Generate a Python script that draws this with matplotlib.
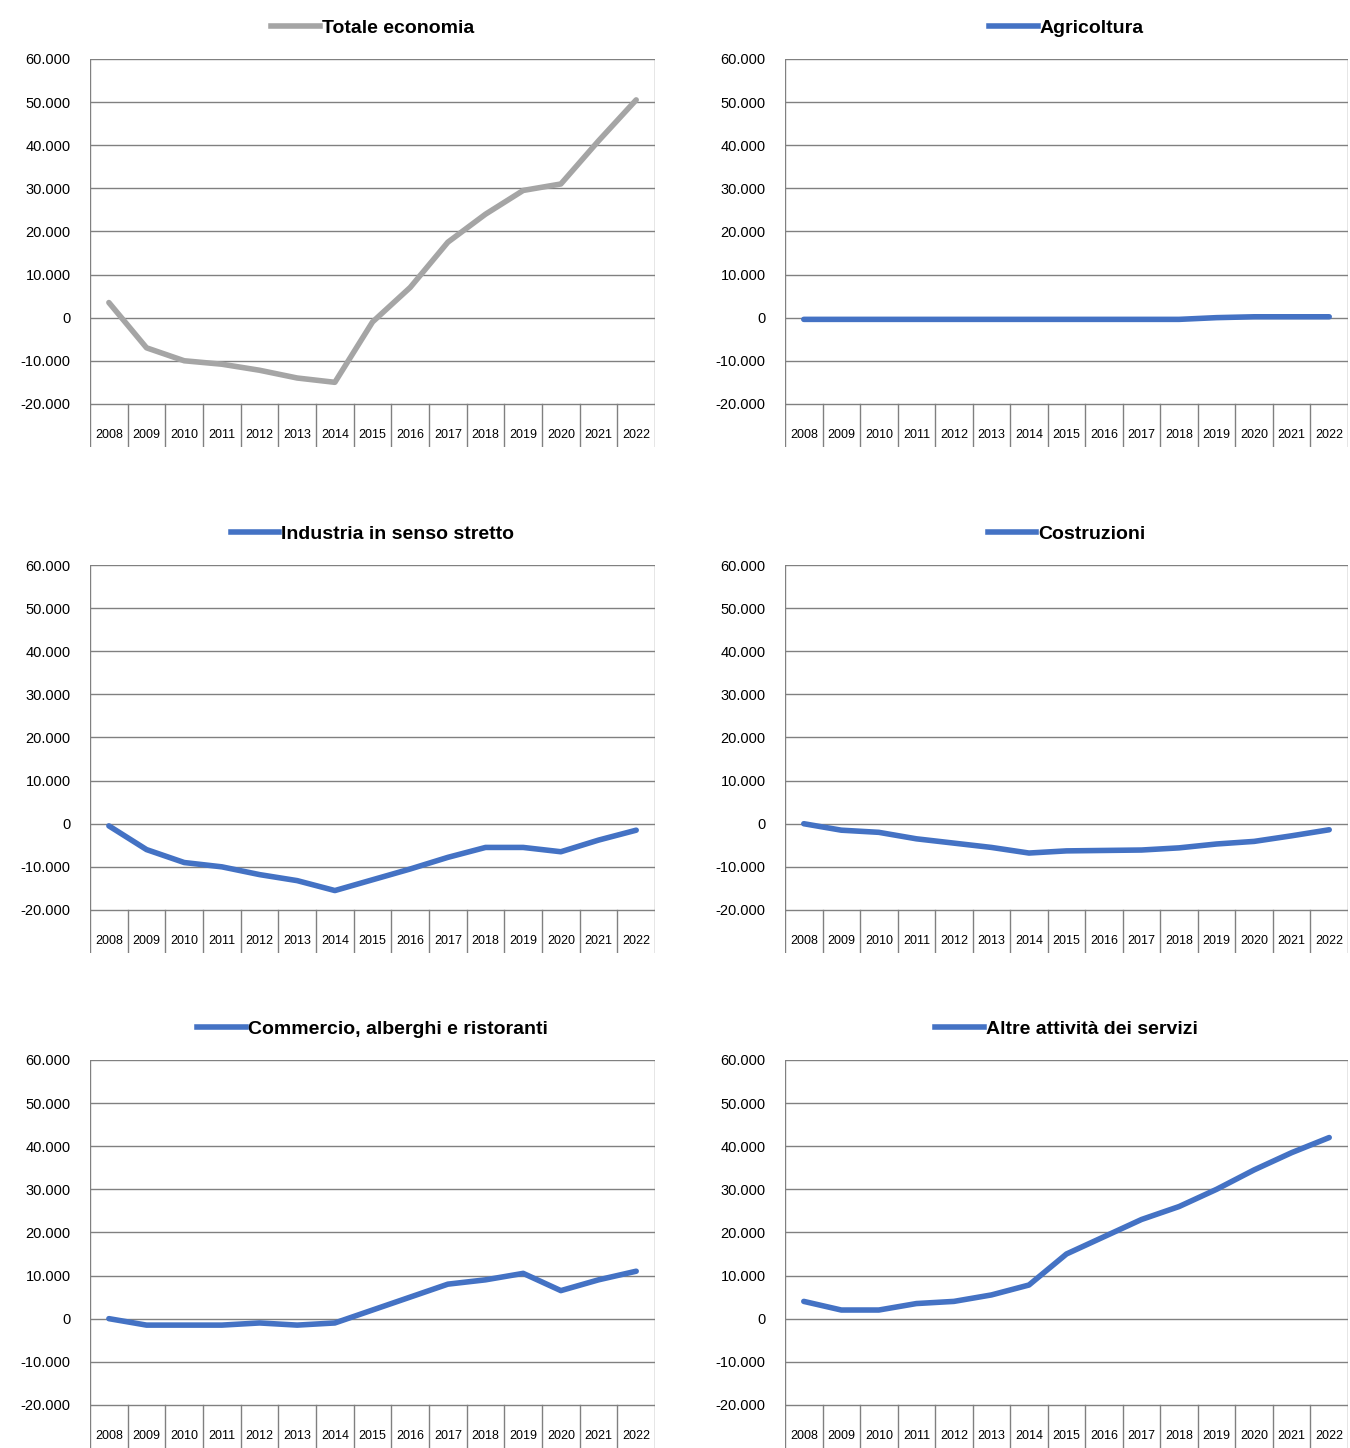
import matplotlib.pyplot as plt
from matplotlib.lines import Line2D

plt.rcParams.update({'font.family': ['Liberation Sans', 'DejaVu Sans']})

years = [str(y) for y in range(2008, 2023)]
totale = [3500, -7000, -10000, -10800, -12200, -14000, -15000, -1000, 7000, 17500, 24000, 29500, 31000, 41000, 50500]
agricoltura = [-400, -400, -400, -400, -400, -400, -400, -400, -400, -400, -400, 0, 200, 200, 200]
industria = [-500, -6000, -9000, -10000, -11800, -13200, -15500, -13000, -10500, -7800, -5500, -5500, -6500, -3800, -1500]
costruzioni = [0, -1500, -2000, -3500, -4500, -5500, -6800, -6300, -6200, -6100, -5600, -4700, -4100, -2800, -1400]
commercio = [0, -1500, -1500, -1500, -1000, -1500, -1000, 2000, 5000, 8000, 9000, 10500, 6500, 9000, 11000]
altre = [4000, 2000, 2000, 3500, 4000, 5500, 7800, 15000, 19000, 23000, 26000, 30000, 34500, 38500, 42000]

panels = [
    ('Totale economia', totale, '#a5a5a5'),
    ('Agricoltura', agricoltura, '#4472c4'),
    ('Industria in senso stretto', industria, '#4472c4'),
    ('Costruzioni', costruzioni, '#4472c4'),
    ('Commercio, alberghi e ristoranti', commercio, '#4472c4'),
    ('Altre attività dei servizi', altre, '#4472c4'),
]

fig = plt.figure(figsize=(13.5, 14.48), dpi=100)
lefts = [0.0667, 0.5815]
widths = [0.4185, 0.417]
bottoms = [0.6913, 0.3418, 0.0]
h = 0.268

def fmt(v):
    return f'{v:,}'.replace(',', '.')

for i, (name, vals, col) in enumerate(panels):
    r, c = divmod(i, 2)
    ax = fig.add_axes([lefts[c], bottoms[r], widths[c], h])
    ax.set_xlim(-0.5, 14.5)
    ax.set_ylim(-30000, 60000)
    ticks = list(range(-20000, 60001, 10000))
    for t in ticks:
        ax.axhline(t, color='#808080', lw=1, zorder=1)
    for k in range(16):
        ax.plot([k - 0.5, k - 0.5], [-30000, -20000], color='#808080', lw=1)
        if k < 15:
            ax.text(k, -27300, years[k], ha='center', va='center', fontsize=9)
    ax.plot([14.5, 14.5], [-20000, 60000], color='#808080', lw=1)
    ax.plot([-0.5, -0.5], [-20000, 60000], color='#808080', lw=1)
    ax.plot(range(15), vals, color=col, lw=4, solid_capstyle='round', zorder=3)
    ax.set_yticks(ticks)
    ax.set_yticklabels([fmt(t) for t in ticks], fontsize=10.5)
    ax.tick_params(axis='y', length=0, pad=14)
    ax.set_xticks([])
    for s in ax.spines.values():
        s.set_visible(False)
    handle = Line2D([], [], color=col, lw=4)
    ax.legend([handle], [name], loc='lower center', bbox_to_anchor=(0.5, 1.0),
              frameon=False, handlelength=2.5, handletextpad=0.1,
              prop={'weight': 'bold', 'size': 14}, borderaxespad=0.75)

fig.savefig('out.png', dpi=100)
